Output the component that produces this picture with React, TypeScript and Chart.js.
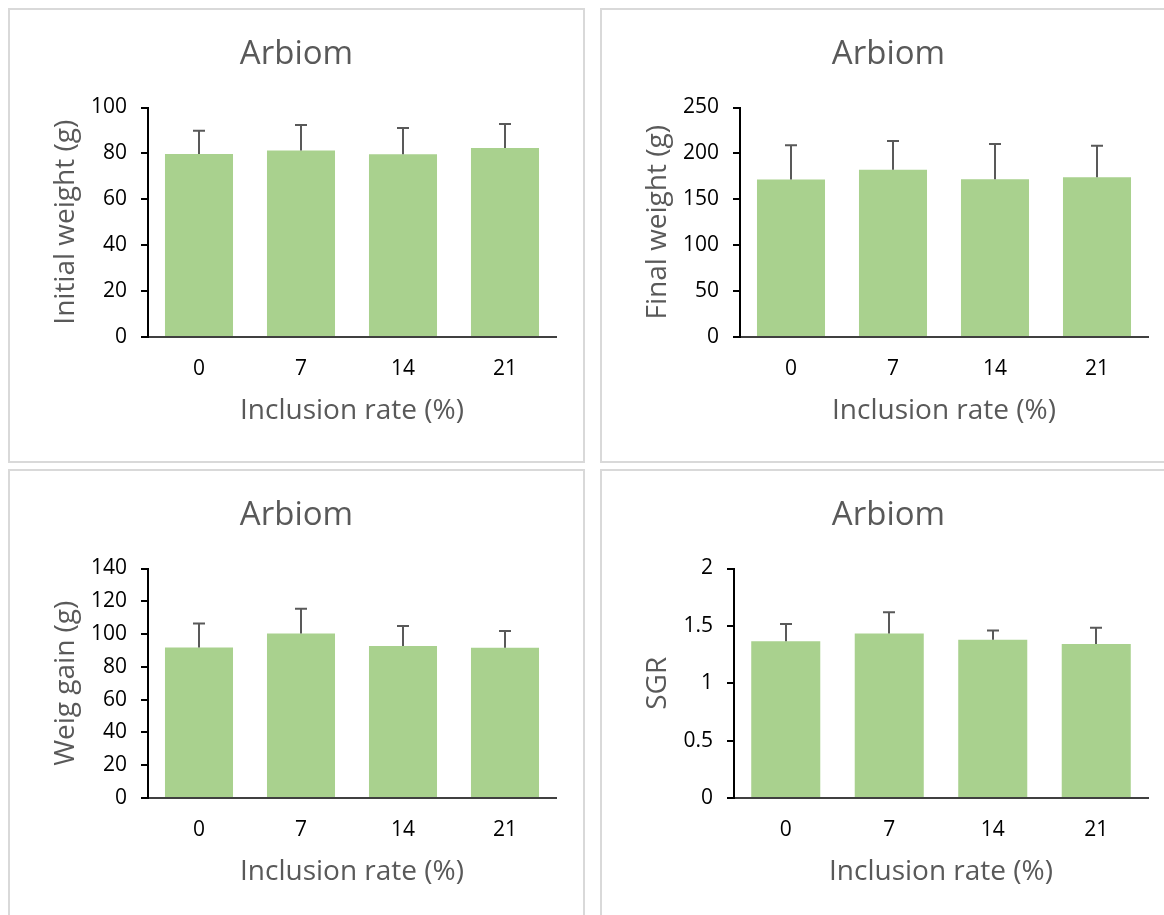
import React, { useEffect, useRef } from 'react';
import { Chart, registerables } from 'chart.js';

Chart.register(...registerables);

// ---------- data ----------
const categories = ['0', '7', '14', '21'];
const chartTitle = 'Arbiom';
const xAxisTitle = 'Inclusion rate (%)';

const initialWeight = [79.7, 81.3, 79.6, 82.3];
const initialWeightSD = [10.2, 11.1, 11.5, 10.5];
const initialWeightTicks = [0, 20, 40, 60, 80, 100];

const finalWeight = [171.5, 182.1, 171.9, 174.1];
const finalWeightSD = [37.3, 31.4, 38.3, 34.3];
const finalWeightTicks = [0, 50, 100, 150, 200, 250];

const weightGain = [91.8, 100.4, 92.7, 91.6];
const weightGainSD = [14.7, 15.1, 12.2, 10.2];
const weightGainTicks = [0, 20, 40, 60, 80, 100, 120, 140];

const sgr = [1.367, 1.433, 1.378, 1.341];
const sgrSD = [0.15, 0.186, 0.081, 0.142];
const sgrTicks = [0, 0.5, 1, 1.5, 2];

// ---------- style ----------
const FONT = "'Open Sans', sans-serif";
const BAR_COLOR = '#A9D18E';
const TEXT_GRAY = '#595959';
const PANEL_W = 577;
const PANEL_H = 455;
const BORDER = 2;
const CANVAS_W = PANEL_W - 2 * BORDER;
const CANVAS_H = PANEL_H - 2 * BORDER;
const PAD_SIDE = 27;
const PAD_BOTTOM = 20;
const AREA_TOP = 97.5;
const AREA_BOTTOM = 327;

const errorBarPlugin = {
  id: 'errorBars',
  afterDatasetsDraw(chart: any, _args: any, opts: any) {
    const meta = chart.getDatasetMeta(0);
    const yScale = chart.scales.y;
    const values = chart.data.datasets[0].data as number[];
    const ctx = chart.ctx;
    ctx.save();
    ctx.strokeStyle = opts.color;
    ctx.lineWidth = opts.width;
    meta.data.forEach((bar: any, i: number) => {
      const v = values[i];
      const yBase = yScale.getPixelForValue(v);
      const yTop = yScale.getPixelForValue(v + opts.sd[i]);
      const x = Math.round(bar.x);
      ctx.beginPath();
      ctx.moveTo(x, yBase);
      ctx.lineTo(x, yTop);
      ctx.moveTo(x - opts.cap / 2, yTop);
      ctx.lineTo(x + opts.cap / 2, yTop);
      ctx.stroke();
    });
    ctx.restore();
  },
};

type PanelProps = {
  left: number;
  top: number;
  yTitle: string;
  values: number[];
  sd: number[];
  ticks: number[];
  areaLeft: number;
};

const TITLE_SIZE = 33;
const TITLE_PAD_TOP = 24.5;
const AXIS_TITLE_SIZE = 28;
const TICK_SIZE = 21;

function Panel({ left, top, yTitle, values, sd, ticks, areaLeft }: PanelProps) {
  const ref = useRef<HTMLCanvasElement>(null);

  useEffect(() => {
    if (!ref.current) return;
    const chart = new Chart(ref.current, {
      type: 'bar',
      data: {
        labels: categories,
        datasets: [
          {
            data: values,
            backgroundColor: BAR_COLOR,
            borderWidth: 0,
            barPercentage: 0.667,
            categoryPercentage: 1,
          },
        ],
      },
      options: {
        responsive: false,
        animation: false,
        devicePixelRatio: 1,
        events: [],
        layout: { padding: { left: PAD_SIDE, right: PAD_SIDE, top: 0, bottom: PAD_BOTTOM } },
        plugins: {
          legend: { display: false },
          tooltip: { enabled: false },
          title: {
            display: true,
            text: chartTitle,
            color: TEXT_GRAY,
            font: { family: FONT, size: TITLE_SIZE, weight: 'normal', lineHeight: 1.2 },
            padding: { top: TITLE_PAD_TOP, bottom: AREA_TOP - TITLE_PAD_TOP - TITLE_SIZE * 1.2 },
          },
          errorBars: { sd, color: '#595959', width: 2, cap: 12 },
        } as any,
        scales: {
          x: {
            grid: { display: false, drawTicks: false },
            border: { display: true, color: '#404040', width: 2 },
            ticks: { font: { family: FONT, size: TICK_SIZE, lineHeight: 1.2 }, color: '#000', padding: 19 },
            title: {
              display: true,
              text: xAxisTitle,
              color: TEXT_GRAY,
              font: { family: FONT, size: AXIS_TITLE_SIZE, lineHeight: 1.2 },
              padding: { top: 0, bottom: 13 },
            },
            afterFit: (s: any) => {
              s.height = CANVAS_H - PAD_BOTTOM - AREA_BOTTOM;
            },
          },
          y: {
            min: ticks[0],
            max: ticks[ticks.length - 1],
            grid: {
              display: true,
              drawOnChartArea: false,
              drawTicks: true,
              tickLength: 7,
              tickColor: '#000',
              tickWidth: 2,
              lineWidth: 2,
            },
            border: { display: true, color: '#000', width: 2 },
            ticks: {
              font: { family: FONT, size: TICK_SIZE, lineHeight: 1.2 },
              color: '#000',
              padding: 14,
              callback: (v: any) => String(v),
            },
            afterBuildTicks: (s: any) => {
              s.ticks = ticks.map((v) => ({ value: v }));
            },
            title: {
              display: true,
              text: yTitle,
              color: TEXT_GRAY,
              font: { family: FONT, size: AXIS_TITLE_SIZE, lineHeight: 1.2 },
              padding: { top: 12.5, bottom: 0 },
            },
            afterFit: (s: any) => {
              s.width = areaLeft - PAD_SIDE;
            },
          },
        },
      } as any,
      plugins: [errorBarPlugin],
    });
    return () => chart.destroy();
  }, []);

  return (
    <div
      style={{
        position: 'absolute',
        left,
        top,
        width: PANEL_W,
        height: PANEL_H,
        boxSizing: 'border-box',
        border: `${BORDER}px solid #d9d9d9`,
        background: '#fff',
      }}
    >
      <canvas
        ref={ref}
        width={CANVAS_W}
        height={CANVAS_H}
        style={{ display: 'block', width: CANVAS_W, height: CANVAS_H }}
      />
    </div>
  );
}

export default function App() {
  return (
    <div
      style={{
        position: 'fixed',
        left: 0,
        top: 0,
        width: 1164,
        height: 915,
        overflow: 'hidden',
        background: '#fff',
      }}
    >
      <Panel left={8} top={8} yTitle="Initial weight (g)" values={initialWeight} sd={initialWeightSD} ticks={initialWeightTicks} areaLeft={138} />
      <Panel left={600} top={8} yTitle="Final weight (g)" values={finalWeight} sd={finalWeightSD} ticks={finalWeightTicks} areaLeft={138} />
      <Panel left={8} top={469} yTitle="Weig gain (g)" values={weightGain} sd={weightGainSD} ticks={weightGainTicks} areaLeft={138} />
      <Panel left={600} top={469} yTitle="SGR" values={sgr} sd={sgrSD} ticks={sgrTicks} areaLeft={132} />
    </div>
  );
}
